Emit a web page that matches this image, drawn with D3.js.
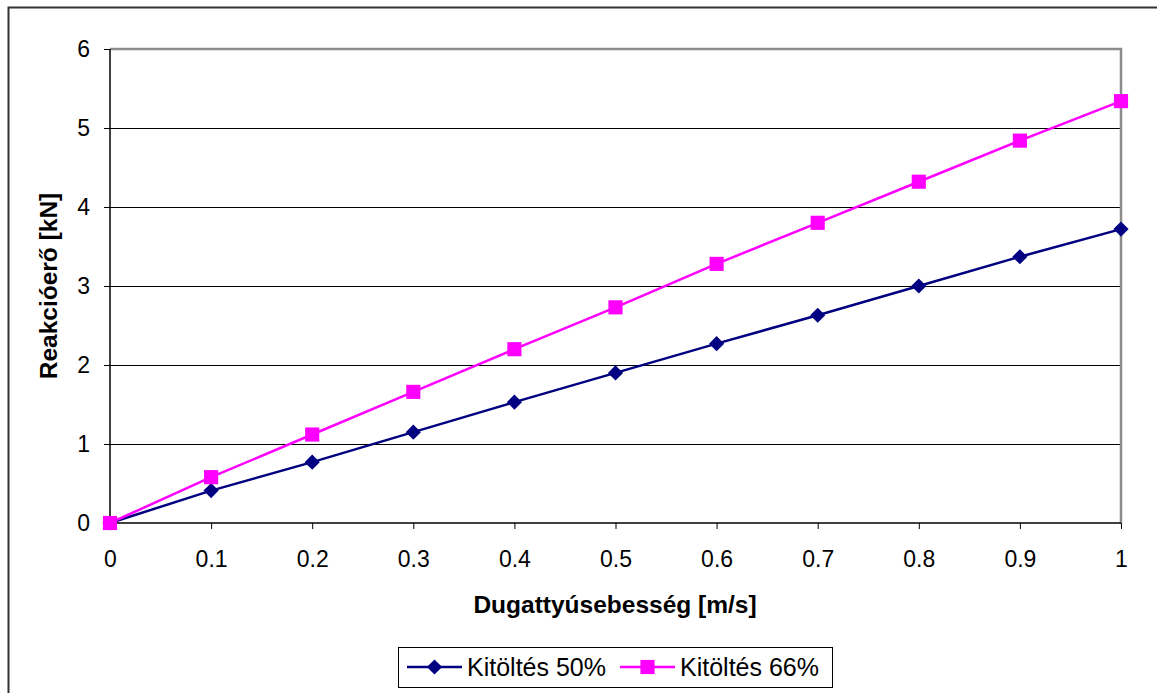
<!DOCTYPE html>
<html>
<head>
<meta charset="utf-8">
<script src="https://cdn.jsdelivr.net/npm/d3@7"></script>
<style>
body { margin:0; background:#fff; }
svg { display:block; font-family:"Liberation Sans", Arial, sans-serif; }
</style>
</head>
<body>
<script>
var speeds = [0, 0.1, 0.2, 0.3, 0.4, 0.5, 0.6, 0.7, 0.8, 0.9, 1];
var fill50 = [0, 0.41, 0.77, 1.15, 1.53, 1.90, 2.27, 2.63, 3.00, 3.37, 3.72];
var fill66 = [0, 0.58, 1.12, 1.66, 2.20, 2.73, 3.28, 3.80, 4.32, 4.84, 5.34];
var seriesNames = ["Kitöltés 50%", "Kitöltés 66%"];
var yTicks = [0, 1, 2, 3, 4, 5, 6];

var width = 1157, height = 693;
var margin = {left:110, right:36, top:49, bottom:170};
var w = width - margin.left - margin.right;
var h = height - margin.top - margin.bottom;

var svg = d3.select("body").append("svg").attr("width", width).attr("height", height);

// outer chart frame (clipped at right and bottom)
svg.append("rect").attr("x", 8.5).attr("y", 7.5).attr("width", 1200).attr("height", 800)
	.attr("fill", "none").attr("stroke", "#333").attr("stroke-width", 2);

var x = d3.scaleLinear().domain([0, 1]).range([0, w]);
var y = d3.scaleLinear().domain([0, 6]).range([h, 0]);

var chartGroup = svg.append("g").attr("transform", "translate("+margin.left+","+margin.top+")");

// gridlines
chartGroup.selectAll("line.grid").data(yTicks.slice(1, -1)).enter().append("line")
	.attr("class", "grid")
	.attr("x1", 0).attr("x2", w)
	.attr("y1", function(d){ return y(d) + 0.5; }).attr("y2", function(d){ return y(d) + 0.5; })
	.attr("stroke", "#000").attr("stroke-width", 1)
	.attr("shape-rendering", "crispEdges");

// plot area border top/right in grey
chartGroup.append("path")
	.attr("d", "M0," + y(6) + "H" + w + "V" + h)
	.attr("fill", "none").attr("stroke", "#8c8c8c").attr("stroke-width", 2.5);

var yAxis = d3.axisLeft(y).tickValues(yTicks).tickSize(6).tickPadding(14).tickFormat(d3.format("d"));
var xAxis = d3.axisBottom(x).tickValues(speeds).tickSize(6).tickPadding(22).tickFormat(function(d){ return d3.format("")(d); });

var gy = chartGroup.append("g").call(yAxis);
var gx = chartGroup.append("g").attr("transform", "translate(0,"+h+")").call(xAxis);
[gx, gy].forEach(function(g){
	g.attr("font-family", null).attr("font-size", null);
	g.select(".domain").attr("stroke", "#000").attr("stroke-width", 1.5);
	g.selectAll(".tick line").attr("stroke", "#000");
	g.selectAll("text").attr("font-size", 23).attr("fill", "#000");
});
gy.select(".domain").attr("d", "M0," + h + "V0");
gx.select(".domain").attr("d", "M0,0H" + w);

var line = d3.line()
	.x(function(d){ return x(d[0]); })
	.y(function(d){ return y(d[1]); });

var series = [
	{name: seriesNames[0], values: fill50, color: "#000080", symbol: d3.symbolSquare, size: 115, rotate: 45},
	{name: seriesNames[1], values: fill66, color: "#ff00ff", symbol: d3.symbolSquare, size: 200, rotate: 0}
];

series.forEach(function(s){
	var pts = speeds.map(function(v, i){ return [v, s.values[i]]; });
	chartGroup.append("path").attr("d", line(pts))
		.attr("fill", "none").attr("stroke", s.color).attr("stroke-width", 2.5);
	chartGroup.selectAll(null).data(pts).enter().append("path")
		.attr("transform", function(d){ return "translate("+x(d[0])+","+y(d[1])+")rotate("+s.rotate+")"; })
		.attr("d", d3.symbol().type(s.symbol).size(s.size))
		.attr("fill", s.color);
});

// axis titles
svg.append("text")
	.attr("text-anchor", "middle")
	.attr("x", 615).attr("y", 613)
	.attr("font-size", 24.5).attr("font-weight", "bold")
	.text("Dugattyúsebesség [m/s]");

svg.append("text")
	.attr("text-anchor", "middle")
	.attr("transform", "translate(57,"+ (margin.top + h/2) +")rotate(-90)")
	.attr("font-size", 24.5).attr("font-weight", "bold")
	.text("Reakcióerő [kN]");

// legend
var legend = svg.append("g").attr("transform", "translate(398,647)");
legend.append("rect").attr("x", 0.5).attr("y", 0.5).attr("width", 434).attr("height", 40)
	.attr("fill", "#fff").attr("stroke", "#000").attr("stroke-width", 1);

var legendX = [9, 222];
series.forEach(function(s, i){
	var g = legend.append("g").attr("transform", "translate("+legendX[i]+",20)");
	g.append("line").attr("x1", 0).attr("x2", 55).attr("y1", 0).attr("y2", 0)
		.attr("stroke", s.color).attr("stroke-width", 2.5);
	g.append("path").attr("transform", "translate(27.5,0)rotate("+s.rotate+")")
		.attr("d", d3.symbol().type(s.symbol).size(s.size)).attr("fill", s.color);
	g.append("text").attr("x", 60).attr("y", 8.5).attr("font-size", 25).text(s.name);
});
</script>
</body>
</html>
